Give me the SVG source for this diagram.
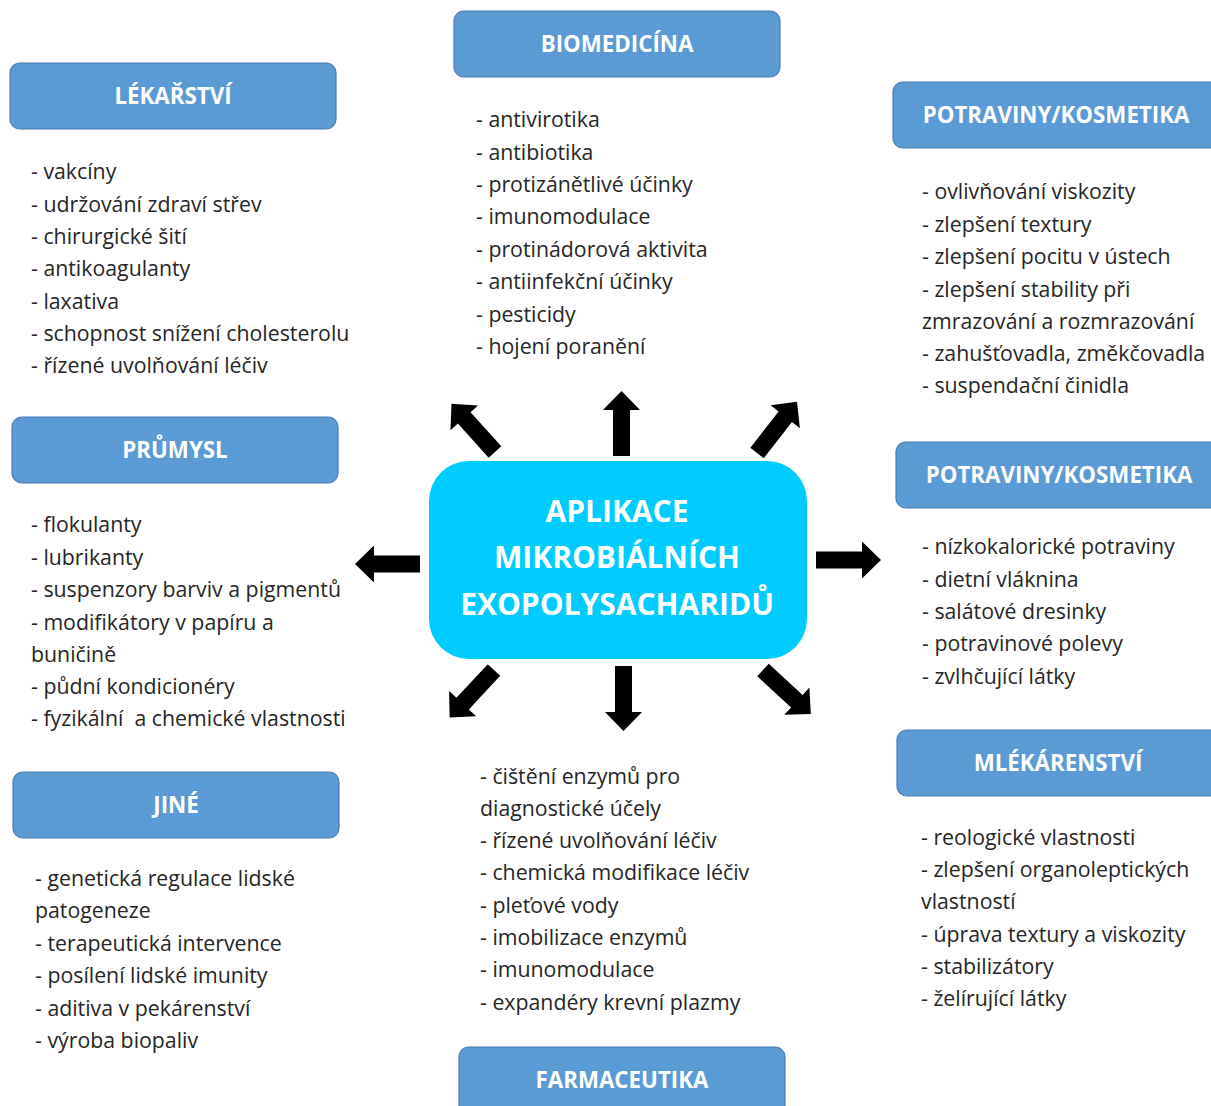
<svg xmlns="http://www.w3.org/2000/svg" width="1211" height="1106" viewBox="0 0 1211 1106">
  <style>
    .hdr rect { fill: #5b9bd5; stroke: #4a7fb5; stroke-width: 1.2; }
    .hdr text { font-family: "Open Sans", "Liberation Sans", sans-serif; font-weight: bold; font-size: 22.3px; fill: #ffffff; text-anchor: middle; }
    .list text { font-family: "Open Sans", "Liberation Sans", sans-serif; font-size: 21.3px; fill: #262626; white-space: pre; }
    .hub rect { fill: #00ccff; }
    .hub text { font-family: "Open Sans", "Liberation Sans", sans-serif; font-weight: bold; font-size: 30px; fill: #ffffff; text-anchor: middle; }
    .arrow { fill: #000000; }
  </style>
  <defs>
    <!-- block arrow pointing along +x, tail at origin -->
    <path id="blk" d="M0,-8.5 H46 V-18.5 L65,0 L46,18.5 V8.5 H0 Z"/>
  </defs>

  <!-- central node -->
  <g id="hub" class="hub">
    <rect x="429" y="461" width="378" height="198" rx="40" ry="40"/>
    <text x="617" y="522">APLIKACE</text>
    <text x="617" y="568">MIKROBIÁLNÍCH</text>
    <text x="617" y="615">EXOPOLYSACHARIDŮ</text>
  </g>

  <!-- arrows radiating from the central node -->
  <g id="connectors" class="arrow">
    <use href="#blk" transform="translate(495,452) rotate(-132)"/>
    <use href="#blk" transform="translate(621.5,456) rotate(-90)"/>
    <use href="#blk" transform="translate(757,453) rotate(-52)"/>
    <use href="#blk" transform="translate(420,564) rotate(180)"/>
    <use href="#blk" transform="translate(816,560)"/>
    <use href="#blk" transform="translate(494,670) rotate(133)"/>
    <use href="#blk" transform="translate(623.5,666) rotate(90)"/>
    <use href="#blk" transform="translate(763,670) rotate(42.6)"/>
  </g>

  <g id="lekarstvi">
    <g class="hdr"><rect x="10" y="63" width="326" height="66" rx="10"/><text x="173" y="104">LÉKAŘSTVÍ</text></g>
    <g class="list">
      <text x="31" y="179">- vakcíny</text>
      <text x="31" y="212">- udržování zdraví střev</text>
      <text x="31" y="244">- chirurgické šití</text>
      <text x="31" y="276">- antikoagulanty</text>
      <text x="31" y="309">- laxativa</text>
      <text x="31" y="341">- schopnost snížení cholesterolu</text>
      <text x="31" y="373">- řízené uvolňování léčiv</text>
    </g>
  </g>

  <g id="biomedicina">
    <g class="hdr"><rect x="454" y="11" width="326" height="66" rx="10"/><text x="617" y="52">BIOMEDICÍNA</text></g>
    <g class="list">
      <text x="476" y="127">- antivirotika</text>
      <text x="476" y="160">- antibiotika</text>
      <text x="476" y="192">- protizánětlivé účinky</text>
      <text x="476" y="224">- imunomodulace</text>
      <text x="476" y="257">- protinádorová aktivita</text>
      <text x="476" y="289">- antiinfekční účinky</text>
      <text x="476" y="322">- pesticidy</text>
      <text x="476" y="354">- hojení poranění</text>
    </g>
  </g>

  <g id="potraviny-kosmetika-1">
    <g class="hdr"><rect x="893" y="82" width="330" height="66" rx="10"/><text x="1056" y="123">POTRAVINY/KOSMETIKA</text></g>
    <g class="list">
      <text x="922" y="199">- ovlivňování viskozity</text>
      <text x="922" y="232">- zlepšení textury</text>
      <text x="922" y="264">- zlepšení pocitu v ústech</text>
      <text x="922" y="297">- zlepšení stability při</text>
      <text x="922" y="329">zmrazování a rozmrazování</text>
      <text x="922" y="361">- zahušťovadla, změkčovadla</text>
      <text x="922" y="393">- suspendační činidla</text>
    </g>
  </g>

  <g id="prumysl">
    <g class="hdr"><rect x="12" y="417" width="326" height="66" rx="10"/><text x="175" y="458">PRŮMYSL</text></g>
    <g class="list">
      <text x="31" y="532">- flokulanty</text>
      <text x="31" y="565">- lubrikanty</text>
      <text x="31" y="597">- suspenzory barviv a pigmentů</text>
      <text x="31" y="630">- modifikátory v papíru a</text>
      <text x="31" y="662">buničině</text>
      <text x="31" y="694">- půdní kondicionéry</text>
      <text x="31" y="726">- fyzikální  a chemické vlastnosti</text>
    </g>
  </g>

  <g id="potraviny-kosmetika-2">
    <g class="hdr"><rect x="896" y="442" width="330" height="66" rx="10"/><text x="1059" y="483">POTRAVINY/KOSMETIKA</text></g>
    <g class="list">
      <text x="922" y="554">- nízkokalorické potraviny</text>
      <text x="922" y="587">- dietní vláknina</text>
      <text x="922" y="619">- salátové dresinky</text>
      <text x="922" y="651">- potravinové polevy</text>
      <text x="922" y="684">- zvlhčující látky</text>
    </g>
  </g>

  <g id="farmaceutika">
    <g class="list">
      <text x="480" y="784">- čištění enzymů pro</text>
      <text x="480" y="816">diagnostické účely</text>
      <text x="480" y="848">- řízené uvolňování léčiv</text>
      <text x="480" y="880">- chemická modifikace léčiv</text>
      <text x="480" y="913">- pleťové vody</text>
      <text x="480" y="945">- imobilizace enzymů</text>
      <text x="480" y="977">- imunomodulace</text>
      <text x="480" y="1010">- expandéry krevní plazmy</text>
    </g>
    <g class="hdr"><rect x="459" y="1047" width="326" height="70" rx="10"/><text x="622" y="1088">FARMACEUTIKA</text></g>
  </g>

  <g id="mlekarenstvi">
    <g class="hdr"><rect x="897" y="730" width="330" height="66" rx="10"/><text x="1058" y="771">MLÉKÁRENSTVÍ</text></g>
    <g class="list">
      <text x="921" y="845">- reologické vlastnosti</text>
      <text x="921" y="877">- zlepšení organoleptických</text>
      <text x="921" y="909">vlastností</text>
      <text x="921" y="942">- úprava textury a viskozity</text>
      <text x="921" y="974">- stabilizátory</text>
      <text x="921" y="1006">- želírující látky</text>
    </g>
  </g>

  <g id="jine">
    <g class="hdr"><rect x="13" y="772" width="326" height="66" rx="10"/><text x="176" y="813">JINÉ</text></g>
    <g class="list">
      <text x="35" y="886">- genetická regulace lidské</text>
      <text x="35" y="918">patogeneze</text>
      <text x="35" y="951">- terapeutická intervence</text>
      <text x="35" y="983">- posílení lidské imunity</text>
      <text x="35" y="1016">- aditiva v pekárenství</text>
      <text x="35" y="1048">- výroba biopaliv</text>
    </g>
  </g>
</svg>
